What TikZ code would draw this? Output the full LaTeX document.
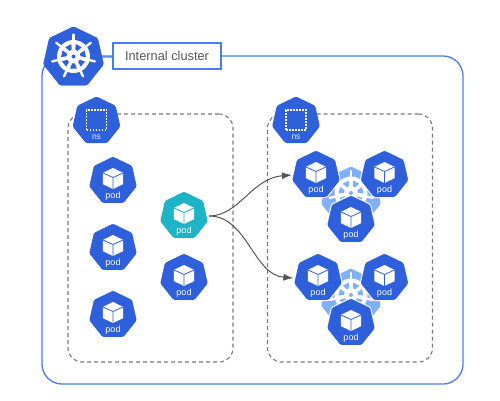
\documentclass[tikz,border=0pt]{standalone}
\usepackage{fontspec}
\setmainfont{Liberation Sans}
\usetikzlibrary{shapes.geometric,arrows.meta,calc}
\definecolor{kblue}{HTML}{2F60DC}
\definecolor{klight}{HTML}{7FB0FF}
\definecolor{kframe}{HTML}{4A7DF0}
\definecolor{kcyan}{HTML}{1CB4C6}
\definecolor{kgray}{HTML}{7A7A7A}
\definecolor{karrow}{HTML}{555555}
\definecolor{ktext}{HTML}{555555}
\tikzset{
  hept/.style={regular polygon,regular polygon sides=7,minimum size=#1,inner sep=0pt,rounded corners=1.5pt},
  heptpod/.style={hept=50pt,draw=white,line width=1pt},
  podtxt/.style={font=\fontsize{9}{10}\selectfont,text=white,inner sep=0pt},
  nstxt/.style={font=\fontsize{8.5}{10}\selectfont,text=white!85!kblue,inner sep=0pt},
  nsframe/.style={draw=kgray,dash pattern=on 4pt off 3pt,line width=1.1pt,rounded corners=14pt,minimum width=165pt,minimum height=248pt,inner sep=0pt},
  clusterframe/.style={draw=kframe,line width=1.3pt,rounded corners=20pt,minimum width=421pt,minimum height=328pt,inner sep=0pt},
  titlebox/.style={draw=kframe,fill=white,line width=1.3pt,minimum width=108pt,minimum height=26pt,inner sep=0pt,text=ktext,font=\fontsize{12.8}{15}\selectfont},
  flow/.style={draw=karrow,line width=1pt,-{Latex[length=10pt,width=7pt]}}
}
% ship wheel centred at the current origin
\newcommand{\helmwheel}[2]{% #1 wheel colour, #2 background colour
  \begin{scope}
    \fill[#1] (0,0) circle (16.5);
    \foreach \a in {-90,-38.57,12.86,64.29,115.71,167.14,218.57}{
      \draw[#1,line width=2.4pt,line cap=round] (\a:15) -- (\a:22);
      \fill[#2] (\a+15:7) -- (\a+10:12.5) -- (\a+41.4:12.5) -- (\a+36.4:7) -- cycle;
    }
    \fill[#2] (0,0) circle (2);
  \end{scope}}
% pod: heptagon, cube and caption
\newcommand{\podnode}[4]{% name, x, y, colour
  \node[heptpod,fill=#4] (#1) at (#2,#3) {};
  \begin{scope}[shift={(#2,#3-2.5)}]
    \fill[white] (0,-10.5) -- (10.2,-5.6) -- (10.2,5.6) -- (0,10.5) -- (-10.2,5.6) -- (-10.2,-5.6) -- cycle;
    \draw[#4,line width=.8pt,line join=round] (-10.2,-5.6) -- (0,-1) -- (10.2,-5.6) (0,-1) -- (0,10.5);
  \end{scope}
  \node[podtxt] (#1-txt) at (#2,#3+15) {pod};
}
\newcommand{\helmback}[3]{% name, x, y
  \node[hept=61pt,fill=klight] (#1) at (#2,#3) {};
  \begin{scope}[shift={(#2,#3-4)}]\helmwheel{white}{klight}\end{scope}
}
\newcommand{\nsnode}[3]{% name, x, y
  \node[hept=49pt,fill=kblue] (#1) at (#2,#3) {};
  \node[draw=white,dash pattern=on 1.7pt off 1.3pt,line width=1.4pt,minimum size=20pt,inner sep=0pt] (#1-sq) at (#2,#3-1) {};
  \node[nstxt] (#1-txt) at (#2,#3+16) {ns};
}
\begin{document}
\begin{tikzpicture}[x=1pt,y=-1pt]
\useasboundingbox (0,0) rectangle (500,400);
\fill[white] (0,0) rectangle (500,400);
\node[clusterframe] (cluster) at (252.5,220) {};
\node[nsframe] (nsleft) at (150.5,238) {};
\node[nsframe] (nsright) at (350,238) {};
\node[titlebox] (title) at (167,56) {Internal cluster};
\node[hept=62pt,fill=kblue] (logo) at (73.5,57.5) {};
\draw[kframe,line width=1.3pt] (logo) -- (title);
\node[hept=62pt,fill=kblue] (logotop) at (73.5,57.5) {};
\begin{scope}[shift={(73.5,56.5)}]\helmwheel{white}{kblue}\end{scope}
\nsnode{nsa}{96.5}{121}
\nsnode{nsb}{296}{121}
\podnode{p1}{113}{181}{kblue}
\podnode{p2}{113}{248}{kblue}
\podnode{p3}{113}{315}{kblue}
\podnode{p4}{184}{278}{kblue}
\podnode{pc}{184}{216}{kcyan}
\helmback{h1}{351}{197}
\helmback{h2}{351}{299}
\podnode{a1}{316}{175}{kblue}
\podnode{a2}{384.5}{175}{kblue}
\podnode{a3}{351}{220}{kblue}
\podnode{b1}{318}{278}{kblue}
\podnode{b2}{384.5}{278}{kblue}
\podnode{b3}{351}{323}{kblue}
\draw[flow] ([xshift=1.5pt]pc.east) .. controls +(30,0) and +(-40,3) .. ([xshift=-.5pt]a1.west);
\draw[flow] ([xshift=1.5pt]pc.east) .. controls +(38,0) and +(-40,-3) .. ([xshift=-1pt]b1.west);
\end{tikzpicture}
\end{document}
